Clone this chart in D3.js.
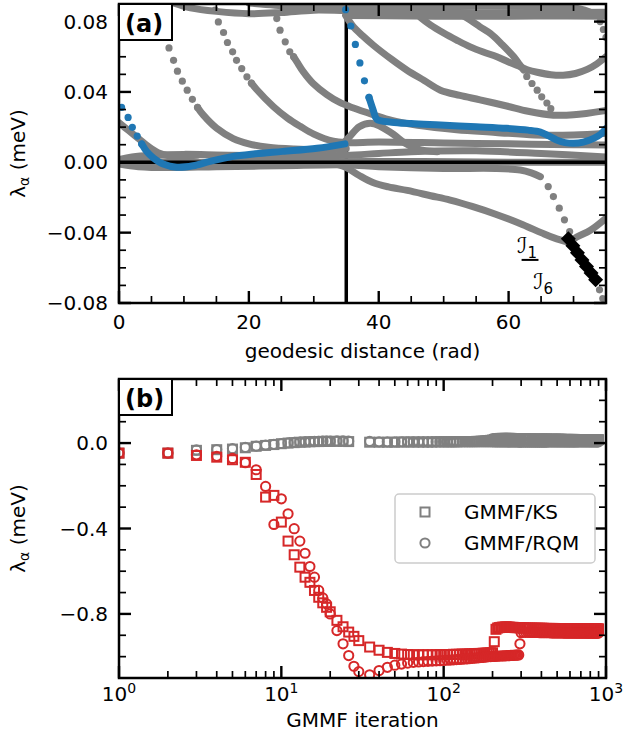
<!DOCTYPE html>
<html>
<head>
<meta charset="utf-8">
<script src="https://cdn.jsdelivr.net/npm/d3@7"></script>
<style>
  body { margin: 0; background: #fff; }
  text { font-family: "DejaVu Sans", sans-serif; fill: #000; }
</style>
</head>
<body>
<div id="chart"></div>
<script>
// ---------- panel (a): eigenvalue branches along the geodesic path ----------
const refDistance = 35;

// dense stretches of the gray branches, [distance, lambda]
const grayLines = [
  [[8.5,0.0905],[11,0.0878],[15,0.0858],[20,0.0845],[25,0.0852],[30,0.0865],[35,0.0862],[45,0.0855],[55,0.085],[65,0.085],[75,0.0853]],
  [[20,0.0905],[24,0.0893],[30,0.0885],[38,0.0882],[46,0.0885],[55,0.0888],[65,0.0885],[71,0.0872],[72.5,0.0855]],
  [[35,0.0835],[45,0.0832],[55,0.083],[65,0.0832],[75,0.083]],
  [[44.3,0.091],[45.2,0.0865],[46.4,0.0825],[48,0.078],[50,0.0735],[52,0.0695],[54.1,0.0656],[56,0.0628],[58.2,0.06],[60,0.057],[61.8,0.0543],[63,0.0525],[64.4,0.0512],[66.5,0.0498],[68.4,0.0495],[70.3,0.0505],[72.1,0.0528],[73.6,0.056],[75,0.06]],
  [[49,0.091],[51,0.0875],[52.5,0.0845],[54.1,0.0808],[55.6,0.077],[57.2,0.0732],[59,0.067],[60.8,0.06],[61.7,0.0555],[62.3,0.0525]],
  [[34.9,0.0835],[36,0.0775],[37.5,0.072],[39.2,0.0665],[42,0.0585],[44.3,0.0525],[47,0.0465],[49.5,0.041],[52.5,0.038],[55.6,0.0355],[59.7,0.032],[63,0.029],[66.9,0.0268],[70,0.027],[75,0.0295]],
  [[12.1,0.0312],[13,0.0268],[15,0.0195],[17.6,0.0135],[20,0.0105],[23,0.0085],[27,0.0075],[31,0.0072],[35,0.0078]],
  [[20.4,0.045],[21.2,0.0414],[23.8,0.0316],[26,0.025],[27.9,0.0205],[30,0.016],[33,0.012],[35,0.0112],[40,0.0115],[50,0.011],[60,0.0105],[70,0.01],[75,0.0098]],
  [[26.9,0.06],[27.4,0.0571],[28.4,0.0514],[29.9,0.0448],[32,0.0385],[34,0.034],[36,0.031],[39.2,0.027],[42,0.0238],[46,0.021],[52,0.0185],[58,0.017],[64,0.0155],[70,0.0155],[75,0.0165]],
  [[32.5,0.006],[34,0.009],[35.5,0.0145],[37,0.0202],[38.7,0.0222],[40.2,0.0205],[42.3,0.0158],[44,0.011],[46,0.0075],[49,0.006]],
  [[0,0.0225],[1.5,0.018],[3,0.0135],[4.5,0.009],[6,0.0055],[7.5,0.0038],[9,0.0035],[12,0.004]],
  [[0,0.0015],[2,0.003],[5,0.004],[10,0.0045],[15,0.0042],[20,0.0038],[25,0.0035],[30,0.0035],[35,0.004],[40,0.005],[45,0.006],[55,0.0065],[65,0.005],[75,0.003]],
  [[0,0.0003],[20,0],[40,0.0005],[60,0],[75,0]],
  [[0,-0.001],[3,-0.0025],[8,-0.003],[15,-0.0025],[25,-0.002],[35,-0.0015],[40,-0.0025],[50,-0.0035],[58,-0.0035],[61.8,-0.0044],[63.5,-0.006],[64.9,-0.0082]],
  [[33,-0.0005],[35,-0.003],[37,-0.0075],[39.1,-0.0115],[41.5,-0.014],[44.4,-0.016],[48,-0.019],[51,-0.0215],[54.5,-0.0252],[58,-0.0295],[62.2,-0.0355],[65,-0.04],[67,-0.043],[69.3,-0.0455]],
  [[69.3,-0.0455],[70.5,-0.0425],[72.6,-0.0386],[75,-0.0317]]
];

// sparse (steep) stretches, single points
const grayDots = [
  [7.7,0.065],[8.4,0.058],[9.0,0.0518],[9.75,0.0461],[10.5,0.041],[11.3,0.0358],[12.1,0.0312],
  [14.8,0.0865],[15.3,0.0798],[16.1,0.0738],[16.7,0.0681],[17.5,0.0628],[18.1,0.058],[18.9,0.0533],[19.7,0.0486],[20.4,0.045],
  [24.3,0.0817],[24.8,0.0751],[25.6,0.0685],[26.3,0.0628],[26.9,0.06],
  [62.8,0.0488],[63.6,0.0448],[64.4,0.041],[65.1,0.0372],[65.9,0.0337],[66.5,0.0305],
  [73.4,0.0835],[74.1,0.08],[74.6,0.0755],[75,0.071],
  [66.1,-0.0138],[66.9,-0.0195],[67.8,-0.0261],[68.6,-0.0327],[69.4,-0.0394],
  [74.0,-0.0725],[74.5,-0.0775],[75,-0.082]
];

const blueLines = [
  [[3.5,0.0104],[4.3,0.006],[5.3,0.0025],[6.8,-0.001],[8.9,-0.0028],[11.4,-0.002],[14,0.0005],[17.4,0.0032],[21,0.0048],[25.2,0.0062],[30.5,0.008],[34.8,0.0105]],
  [[38.5,0.0369],[39.2,0.0291],[39.7,0.0245],[42,0.0228],[45,0.022],[49.5,0.0212],[55,0.0202],[59.7,0.0193],[63,0.0183],[64.9,0.0172],[66.2,0.015],[67.4,0.0127],[68.7,0.0112],[70,0.0108],[71.5,0.0115],[73.1,0.0136],[74.2,0.016],[75,0.0193]]
];
const blueDots = [
  [0.4,0.0312],[1.4,0.0255],[2.05,0.0199],[2.8,0.0149],[3.5,0.0104],
  [34.9,0.0868],[35.7,0.0775],[36.4,0.067],[37.1,0.0565],[37.8,0.0463],[38.5,0.0369]
];

// images I1..I6 (black diamonds)
const imageX = [69.2, 69.9, 70.6, 71.3, 72.0, 72.7, 73.4];
const imageY = [-0.0435, -0.0475, -0.0515, -0.0555, -0.0592, -0.063, -0.0668];

// ---------- panel (b): lowest eigenvalues during GMMF iterations ----------
const iterEarly = [1,2,3,4,5,6,7,8,9,10,11,12,13,14,15,16,17,18,19,20,22,24,26,28,30,35];
const iterMid = [40,45,50,55,60,65,70,75,80,85,90,95,100,105,110,115,120,125,130,135,140,145,150,
  155,160,165,170,175,180,185,190,195,200,205,210,215,220,225,230,235,240,245,250,255,260,265,270,275,280,285,290,295,300];
const iterLate = [310,320,330,340,350,360,370,380,390,400,410,420,430,440,450,460,470,480,490,500,
  510,520,530,540,550,560,570,580,590,600,610,620,630,640,650,660,670,680,690,700,
  710,720,730,740,750,760,770,780,790,800,810,820,830,840,850,860,870,880,890,900];

const ksRedEarly = [-0.047,-0.047,-0.058,-0.066,-0.078,-0.09,-0.147,-0.253,-0.245,-0.37,-0.459,-0.523,-0.581,-0.628,-0.652,-0.69,-0.722,-0.748,-0.769,-0.79,-0.83,-0.86,-0.885,-0.905,-0.925,-0.955];
const ksRedMid = [-0.97,-0.98,-0.985,-0.988,-0.99,-0.991,-0.991,-0.991,-0.991,-0.991,-0.991,-0.99,-0.99,-0.99,-0.99,-0.989,-0.989,-0.989,-0.988,-0.988,-0.988,-0.987,-0.987,
  -0.986,-0.986,-0.985,-0.985,-0.984,-0.984,-0.983,-0.983,-0.982,-0.982,-0.93,-0.872,-0.866,-0.864,-0.863,-0.862,-0.862,-0.861,-0.861,-0.862,-0.862,-0.863,-0.863,-0.863,-0.864,-0.864,-0.864,-0.864,-0.865,-0.865];
const ksRedLate = [-0.865,-0.866,-0.866,-0.866,-0.866,-0.867,-0.867,-0.867,-0.867,-0.867,-0.867,-0.868,-0.868,-0.868,-0.868,-0.868,-0.868,-0.868,-0.869,-0.869,
  -0.869,-0.869,-0.869,-0.869,-0.869,-0.869,-0.87,-0.87,-0.87,-0.87,-0.87,-0.87,-0.87,-0.87,-0.87,-0.87,-0.87,-0.87,-0.87,-0.87,
  -0.87,-0.87,-0.87,-0.87,-0.87,-0.87,-0.87,-0.87,-0.87,-0.87,-0.87,-0.87,-0.87,-0.87,-0.87,-0.87,-0.87,-0.87,-0.87,-0.87];

const rqmRedEarly = [-0.047,-0.047,-0.055,-0.062,-0.072,-0.092,-0.125,-0.203,-0.381,-0.261,-0.331,-0.401,-0.459,-0.516,-0.578,-0.628,-0.69,-0.725,-0.753,-0.8,-0.878,-0.94,-0.995,-1.045,-1.07,-1.085];
const rqmRedMid = [-1.065,-1.05,-1.04,-1.035,-1.03,-1.027,-1.025,-1.023,-1.022,-1.021,-1.02,-1.019,-1.018,-1.017,-1.016,-1.015,-1.014,-1.013,-1.012,-1.011,-1.01,-1.009,-1.008,
  -1.007,-1.006,-1.005,-1.004,-1.003,-1.002,-1.001,-1.0,-1.0,-0.999,-0.999,-0.998,-0.998,-0.997,-0.997,-0.996,-0.996,-0.996,-0.995,-0.995,-0.995,-0.994,-0.994,-0.994,-0.993,-0.993,-0.993,-0.992,-0.94,-0.888];
const rqmRedLate = [-0.886,-0.886,-0.886,-0.887,-0.887,-0.887,-0.887,-0.887,-0.888,-0.888,-0.888,-0.888,-0.888,-0.888,-0.888,-0.889,-0.889,-0.889,-0.889,-0.889,
  -0.889,-0.889,-0.889,-0.889,-0.89,-0.89,-0.89,-0.89,-0.89,-0.89,-0.89,-0.89,-0.89,-0.89,-0.89,-0.89,-0.89,-0.89,-0.89,-0.89,
  -0.89,-0.89,-0.89,-0.89,-0.89,-0.89,-0.89,-0.89,-0.89,-0.89,-0.89,-0.89,-0.89,-0.89,-0.89,-0.89,-0.89,-0.89,-0.89,-0.89];

const ksGrayEarly = [-0.047,-0.047,-0.034,-0.031,-0.028,-0.022,-0.015,-0.011,-0.007,-0.003,0.0,0.002,0.004,0.005,0.006,0.007,0.007,0.008,0.008,0.008,0.008,0.008,0.007,null,null,0.004];
const ksGrayMid = [0.004,0.004,0.004,0.005,0.005,0.005,0.005,0.005,0.005,0.005,0.006,0.006,0.006,0.006,0.006,0.006,0.006,0.007,0.007,0.007,0.007,0.007,0.007,
  0.007,0.008,0.008,0.009,0.009,0.01,0.011,0.012,0.013,0.014,0.017,0.02,0.021,0.021,0.022,0.022,0.022,0.022,0.022,0.022,0.022,0.022,0.021,0.021,0.021,0.021,0.02,0.02,0.02,0.02];
const ksGrayLate = [0.02,0.02,0.02,0.02,0.02,0.019,0.019,0.019,0.019,0.019,0.019,0.019,0.019,0.018,0.018,0.018,0.018,0.018,0.018,0.018,
  0.018,0.018,0.018,0.017,0.017,0.017,0.017,0.017,0.017,0.017,0.017,0.017,0.017,0.017,0.016,0.016,0.016,0.016,0.016,0.016,
  0.016,0.016,0.016,0.016,0.016,0.016,0.016,0.016,0.016,0.016,0.016,0.016,0.016,0.016,0.016,0.016,0.016,0.016,0.016,0.016];

const rqmGrayEarly = [-0.047,-0.047,-0.032,-0.03,-0.026,-0.02,-0.014,-0.009,-0.006,-0.002,0.001,0.003,0.005,0.006,0.007,0.008,0.008,0.009,0.009,0.009,0.01,0.01,0.009,null,null,0.008];
const rqmGrayMid = [0.006,0.006,0.006,0.006,0.006,0.006,0.006,0.006,0.006,0.006,0.006,0.006,0.006,0.006,0.006,0.006,0.006,0.006,0.006,0.006,0.006,0.006,0.006,
  0.006,0.006,0.006,0.006,0.006,0.006,0.006,0.006,0.006,0.006,0.005,0.005,0.005,0.005,0.005,0.005,0.005,0.005,0.005,0.005,0.005,0.005,0.005,0.005,0.005,0.005,0.005,0.005,0.004,0.004];
const rqmGrayLate = [0.004,0.004,0.004,0.004,0.004,0.004,0.004,0.004,0.004,0.004,0.004,0.004,0.004,0.005,0.005,0.005,0.005,0.005,0.005,0.005,
  0.005,0.005,0.005,0.005,0.005,0.005,0.005,0.005,0.005,0.005,0.005,0.005,0.005,0.005,0.005,0.005,0.006,0.006,0.006,0.006,
  0.006,0.006,0.006,0.006,0.006,0.006,0.006,0.006,0.006,0.006,0.006,0.006,0.006,0.006,0.006,0.006,0.006,0.006,0.006,0.006];

const legendLabels = ["GMMF/KS", "GMMF/RQM"];

// ---------- drawing ----------
const GRAY = "#808080", BLUE = "#1f77b4", RED = "#d62728";
const svg = d3.select("#chart").append("svg").attr("width", 623).attr("height", 745);
const defs = svg.append("defs");

const boxA = { left: 119, right: 606, top: 4, bottom: 303 };
const boxB = { left: 119, right: 606, top: 379, bottom: 678 };

const xA = d3.scaleLinear().domain([0, 75]).range([boxA.left, boxA.right]);
const yA = d3.scaleLinear().domain([-0.08, 0.09]).range([boxA.bottom, boxA.top]);
const xB = d3.scaleLog().domain([1, 1000]).range([boxB.left, boxB.right]);
const yB = d3.scaleLinear().domain([-1.1, 0.3]).range([boxB.bottom, boxB.top]);

function clip(id, b) {
  defs.append("clipPath").attr("id", id).append("rect")
    .attr("x", b.left).attr("y", b.top)
    .attr("width", b.right - b.left).attr("height", b.bottom - b.top);
}
clip("clipA", boxA);
clip("clipB", boxB);

// panel (a) content
const gA = svg.append("g").attr("clip-path", "url(#clipA)");
const lineA = d3.line().x(d => xA(d[0])).y(d => yA(d[1])).curve(d3.curveCatmullRom.alpha(0.5));

gA.append("line")
  .attr("x1", xA(refDistance)).attr("x2", xA(refDistance))
  .attr("y1", boxA.top).attr("y2", boxA.bottom)
  .attr("stroke", "#000").attr("stroke-width", 3.5);

gA.selectAll(".gray-line").data(grayLines).join("path")
  .attr("class", "gray-line")
  .attr("d", lineA)
  .attr("fill", "none").attr("stroke", GRAY).attr("stroke-width", 7)
  .attr("stroke-linecap", "round").attr("stroke-linejoin", "round");

gA.selectAll(".gray-dot").data(grayDots).join("circle")
  .attr("class", "gray-dot")
  .attr("cx", d => xA(d[0])).attr("cy", d => yA(d[1])).attr("r", 3.6)
  .attr("fill", GRAY);

gA.append("line")
  .attr("x1", boxA.left).attr("x2", boxA.right)
  .attr("y1", yA(0)).attr("y2", yA(0))
  .attr("stroke", "#000").attr("stroke-width", 3.5);

gA.selectAll(".blue-line").data(blueLines).join("path")
  .attr("class", "blue-line")
  .attr("d", lineA)
  .attr("fill", "none").attr("stroke", BLUE).attr("stroke-width", 7)
  .attr("stroke-linecap", "round").attr("stroke-linejoin", "round");

gA.selectAll(".blue-dot").data(blueDots).join("circle")
  .attr("class", "blue-dot")
  .attr("cx", d => xA(d[0])).attr("cy", d => yA(d[1])).attr("r", 3.6)
  .attr("fill", BLUE);

const diamond = "M0,-7.5L7.5,0L0,7.5L-7.5,0Z";
gA.selectAll(".image").data(imageX).join("path")
  .attr("class", "image")
  .attr("d", diamond)
  .attr("transform", (d, i) => `translate(${xA(d)},${yA(imageY[i])})`)
  .attr("fill", "#000");

// labels of first / last image
const lab1 = svg.append("text").attr("x", xA(61.3)).attr("y", yA(-0.0515))
  .style("font-size", "22px").style("font-style", "italic");
lab1.append("tspan").text("ℐ");
lab1.append("tspan").attr("dy", 5).style("font-size", "15px").style("font-style", "normal").text("1");
svg.append("line")
  .attr("x1", xA(62.0)).attr("x2", xA(64.6))
  .attr("y1", yA(-0.0555)).attr("y2", yA(-0.0555))
  .attr("stroke", "#000").attr("stroke-width", 2);
const lab6 = svg.append("text").attr("x", xA(63.8)).attr("y", yA(-0.0719))
  .style("font-size", "22px").style("font-style", "italic");
lab6.append("tspan").text("ℐ");
lab6.append("tspan").attr("dy", 5).style("font-size", "15px").style("font-style", "normal").text("6");

// panel (b) content
const gB = svg.append("g").attr("clip-path", "url(#clipB)");
const iters = iterEarly.concat(iterMid, iterLate);
function pairs(early, mid, late) {
  return early.concat(mid, late).map((v, i) => [iters[i], v]).filter(d => d[1] !== null);
}
function squares(data, color) {
  gB.append("g").selectAll("rect").data(data).join("rect")
    .attr("x", d => xB(d[0]) - 4.5).attr("y", d => yB(d[1]) - 4.5)
    .attr("width", 9).attr("height", 9)
    .attr("fill", "none").attr("stroke", color).attr("stroke-width", 2);
}
function circles(data, color) {
  gB.append("g").selectAll("circle").data(data).join("circle")
    .attr("cx", d => xB(d[0])).attr("cy", d => yB(d[1])).attr("r", 4.6)
    .attr("fill", "none").attr("stroke", color).attr("stroke-width", 2);
}
squares(pairs(ksGrayEarly, ksGrayMid, ksGrayLate), GRAY);
circles(pairs(rqmGrayEarly, rqmGrayMid, rqmGrayLate), GRAY);
squares(pairs(ksRedEarly, ksRedMid, ksRedLate), RED);
circles(pairs(rqmRedEarly, rqmRedMid, rqmRedLate), RED);

// frames, ticks and tick labels
function frame(b, xs, ys, xMajor, xMinor, yMajor, yMinor) {
  const g = svg.append("g").attr("stroke", "#000");
  const tick = (x1, y1, x2, y2, w) =>
    g.append("line").attr("x1", x1).attr("y1", y1).attr("x2", x2).attr("y2", y2).attr("stroke-width", w);
  xMajor.forEach(v => { const x = xs(v); tick(x, b.bottom, x, b.bottom - 12, 2.4); tick(x, b.top, x, b.top + 12, 2.4); });
  xMinor.forEach(v => { const x = xs(v); tick(x, b.bottom, x, b.bottom - 7, 1.7); tick(x, b.top, x, b.top + 7, 1.7); });
  yMajor.forEach(v => { const y = ys(v); tick(b.left, y, b.left + 12, y, 2.4); tick(b.right, y, b.right - 12, y, 2.4); });
  yMinor.forEach(v => { const y = ys(v); tick(b.left, y, b.left + 7, y, 1.7); tick(b.right, y, b.right - 7, y, 1.7); });
  g.append("rect").attr("x", b.left).attr("y", b.top)
    .attr("width", b.right - b.left).attr("height", b.bottom - b.top)
    .attr("fill", "none").attr("stroke-width", 2.5);
}

const aXMajor = [0, 20, 40, 60];
const aXMinor = d3.range(5, 76, 5).filter(v => v % 20 !== 0);
const aYMajor = [-0.08, -0.04, 0, 0.04, 0.08];
const aYMinor = d3.range(-7, 10).filter(v => v % 4 !== 0).map(v => v / 100);
frame(boxA, xA, yA, aXMajor, aXMinor, aYMajor, aYMinor);

const bXMajor = [1, 10, 100, 1000];
const bXMinor = xB.ticks().filter(v => !bXMajor.includes(v));
const bYMajor = [-0.8, -0.4, 0];
const bYMinor = d3.range(-11, 4).filter(v => v % 4 !== 0).map(v => v / 10);
frame(boxB, xB, yB, bXMajor, bXMinor, bYMajor, bYMinor);

const fs = "20px";
aXMajor.forEach(v => svg.append("text").attr("x", xA(v)).attr("y", 329)
  .attr("text-anchor", "middle").style("font-size", fs).text(v));
aYMajor.forEach(v => svg.append("text").attr("x", 108).attr("y", yA(v)).attr("dy", "0.36em")
  .attr("text-anchor", "end").style("font-size", fs).text(d3.format(".2f")(v)));
bYMajor.forEach(v => svg.append("text").attr("x", 108).attr("y", yB(v)).attr("dy", "0.36em")
  .attr("text-anchor", "end").style("font-size", fs).text(d3.format(".1f")(v)));
bXMajor.forEach(v => {
  const t = svg.append("text").attr("x", xB(v)).attr("y", 701)
    .attr("text-anchor", "middle").style("font-size", fs);
  t.append("tspan").text("10");
  t.append("tspan").attr("dy", -8).style("font-size", "14px").text(Math.round(Math.log10(v)));
});

// axis titles
svg.append("text").attr("x", (boxA.left + boxA.right) / 2).attr("y", 358)
  .attr("text-anchor", "middle").style("font-size", fs).text("geodesic distance (rad)");
svg.append("text").attr("x", (boxB.left + boxB.right) / 2).attr("y", 727)
  .attr("text-anchor", "middle").style("font-size", fs).text("GMMF iteration");
[boxA, boxB].forEach(b => {
  const t = svg.append("text")
    .attr("transform", `translate(25,${(b.top + b.bottom) / 2}) rotate(-90)`)
    .attr("text-anchor", "middle").style("font-size", fs);
  t.append("tspan").text("λ");
  t.append("tspan").attr("dy", 4).style("font-size", "14px").text("α");
  t.append("tspan").attr("dy", -4).text(" (meV)");
});

// panel tags
[[boxA, "(a)"], [boxB, "(b)"]].forEach(([b, s]) => {
  svg.append("rect").attr("x", b.left).attr("y", b.top).attr("width", 53).attr("height", 36)
    .attr("fill", "#fff").attr("stroke", "#000").attr("stroke-width", 2);
  svg.append("text").attr("x", b.left + 6).attr("y", b.top + 28)
    .style("font-size", "24px").style("font-weight", "bold").text(s);
});

// legend
const lg = svg.append("g");
lg.append("rect").attr("x", 395).attr("y", 494).attr("width", 200).attr("height", 69).attr("rx", 4)
  .attr("fill", "#fff").attr("fill-opacity", 0.8).attr("stroke", "#cccccc").attr("stroke-width", 1.5);
lg.append("rect").attr("x", 425 - 4.5).attr("y", 512 - 4.5).attr("width", 9).attr("height", 9)
  .attr("fill", "none").attr("stroke", GRAY).attr("stroke-width", 2);
lg.append("circle").attr("cx", 425).attr("cy", 543).attr("r", 4.6)
  .attr("fill", "none").attr("stroke", GRAY).attr("stroke-width", 2);
legendLabels.forEach((s, i) => lg.append("text").attr("x", 464).attr("y", 519 + i * 31)
  .style("font-size", fs).text(s));
</script>
</body>
</html>
